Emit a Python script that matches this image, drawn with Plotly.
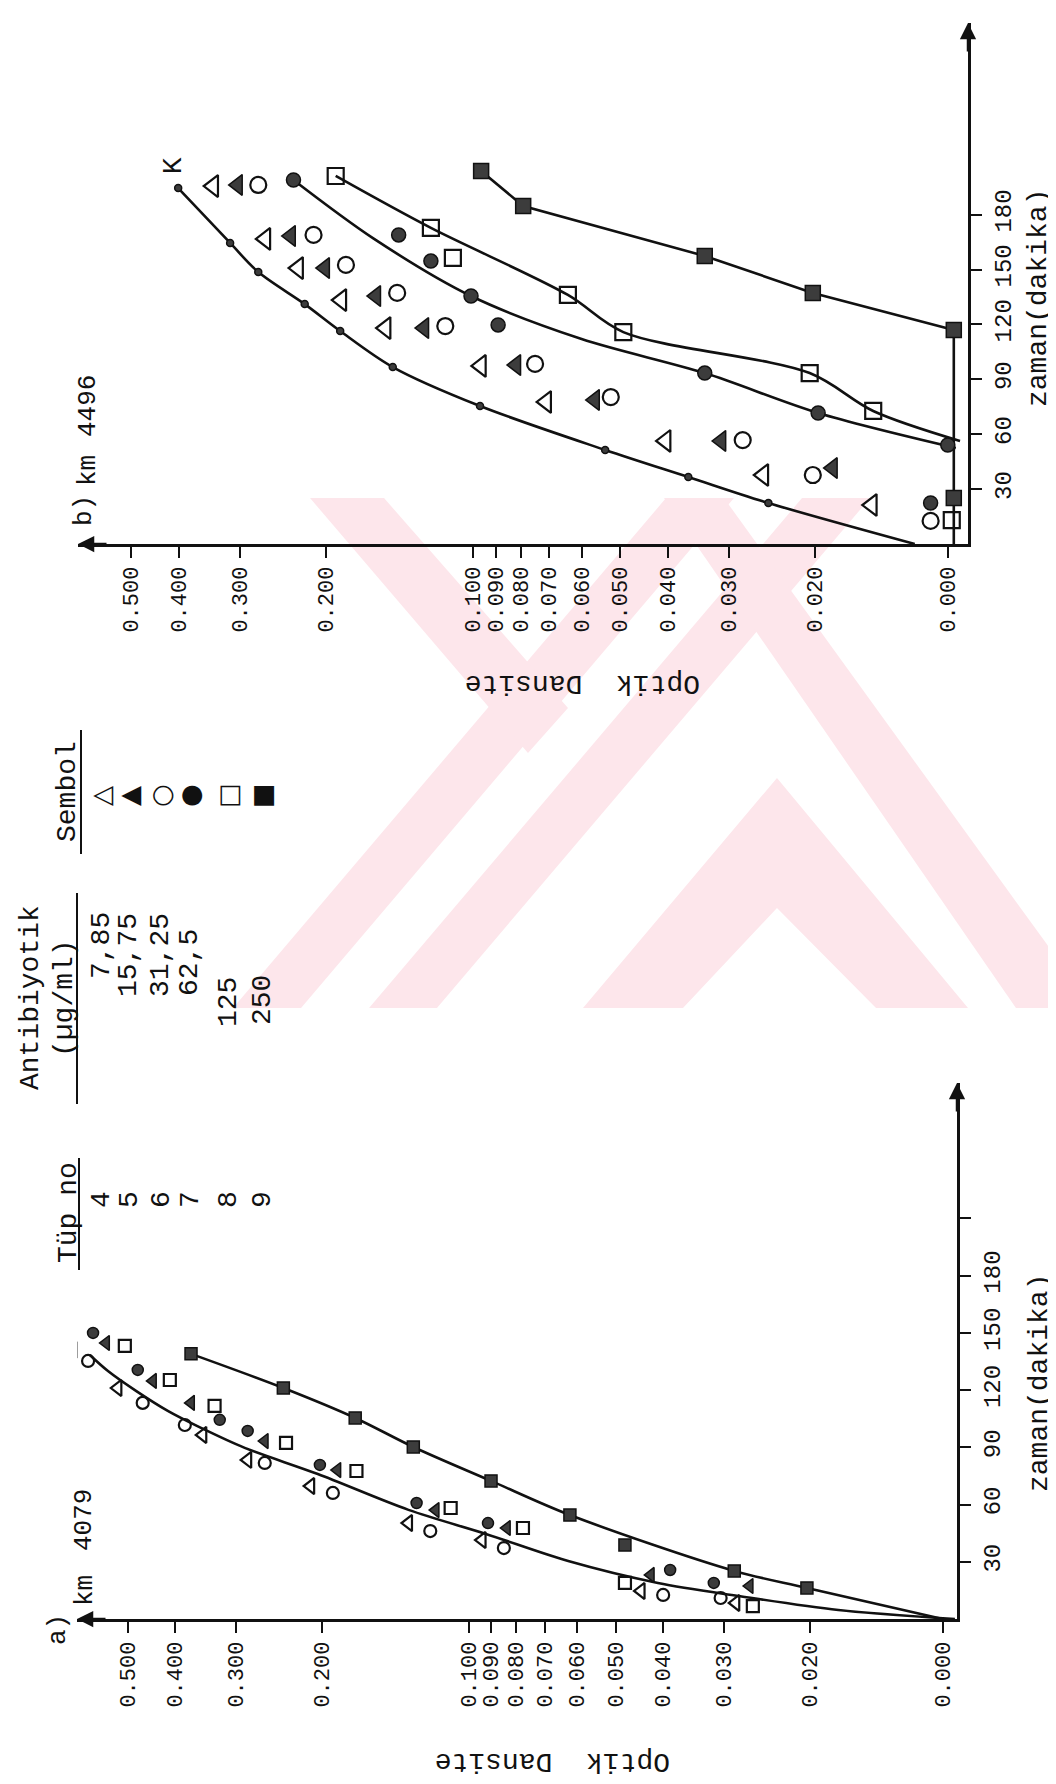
import numpy as np
import plotly.graph_objects as go

W, H = 1056, 1784

# ---------------- Panel b) km 4496 : time (min) vs optical density ----------------
b_K_t = [194.5, 164.5, 148.6, 131.1, 116.4, 96.7, 75.4, 51.4, 36.6, 22.4]
b_K_od = [0.401, 0.314, 0.275, 0.221, 0.187, 0.146, 0.0968, 0.0537, 0.0363, 0.0249]
b_tri_t = [195.6, 166.7, 150.8, 133.3, 118.0, 97.3, 77.6, 56.3, 37.7, 21.3]
b_tri_od = [0.340, 0.266, 0.228, 0.186, 0.151, 0.0964, 0.0709, 0.0404, 0.0255, 0.0153]
b_trif_t = [196.2, 168.3, 150.8, 135.5, 118.0, 97.8, 78.7, 56.3, 41.5]
b_trif_od = [0.303, 0.236, 0.201, 0.158, 0.126, 0.0817, 0.0564, 0.0311, 0.0184]
b_cir_t = [196.2, 168.9, 152.5, 137.2, 119.1, 98.4, 80.3, 56.8, 37.7, 12.6]
b_cir_od = [0.275, 0.212, 0.182, 0.143, 0.114, 0.0747, 0.0523, 0.0281, 0.0202, 0.0116]
b_cirf_t = [198.9, 168.9, 154.6, 135.5, 119.7, 93.4, 71.6, 54.1, 22.4]
b_cirf_od = [0.233, 0.142, 0.122, 0.101, 0.0889, 0.0336, 0.0197, 0.0107, 0.0116]
b_sq_t = [201.1, 172.7, 156.3, 136.1, 115.8, 93.4, 72.7, 13.1]
b_sq_od = [0.191, 0.122, 0.110, 0.064, 0.0493, 0.0205, 0.0152, 0.0105]
b_sqf_t = [203.8, 184.7, 157.4, 137.2, 116.9, 25.1]
b_sqf_od = [0.0963, 0.079, 0.0336, 0.0202, 0.0104, 0.0104]

# hand-drawn curves of panel b
b_cK_t = [194.5, 164.5, 148.6, 131.1, 116.4, 96.7, 75.4, 51.4, 36.6, 22.4, 0]
b_cK_od = [0.401, 0.314, 0.275, 0.221, 0.187, 0.146, 0.0968, 0.0537, 0.0363, 0.0249, 0.0125]
b_cCir_t = [198.9, 167.0, 135.5, 112.0, 93.4, 71.6, 52.5]
b_cCir_od = [0.233, 0.160, 0.101, 0.060, 0.0336, 0.0197, 0.0103]
b_cSq_t = [201.1, 172.7, 136.1, 115.8, 93.4, 72.7, 56.3]
b_cSq_od = [0.191, 0.122, 0.064, 0.0493, 0.0205, 0.0152, 0.0101]
b_cSqf_t = [203.8, 184.7, 157.4, 137.2, 116.9, 0]
b_cSqf_od = [0.0963, 0.079, 0.0336, 0.0202, 0.0104, 0.0104]

# ---------------- Panel a) km 4079 ----------------
a_tri_t = [141.1, 121.1, 96.5, 83.4, 69.7, 50.3, 41.4, 14.7, 8.4]
a_tri_od = [0.648, 0.524, 0.351, 0.284, 0.211, 0.133, 0.094, 0.0444, 0.0284]
a_trif_t = [144.7, 124.8, 113.3, 93.3, 78.1, 57.1, 47.7, 23.1, 17.3]
a_trif_od = [0.554, 0.444, 0.371, 0.262, 0.186, 0.117, 0.0836, 0.0424, 0.0266]
a_cir_t = [135.3, 113.3, 101.7, 81.8, 66.1, 46.1, 37.2, 12.6, 11.0]
a_cir_od = [0.603, 0.466, 0.382, 0.262, 0.190, 0.120, 0.0848, 0.0400, 0.0305]
a_cirf_t = [150.0, 130.6, 104.4, 98.6, 80.8, 60.8, 50.3, 25.7, 18.9]
a_cirf_od = [0.589, 0.477, 0.324, 0.284, 0.202, 0.128, 0.0914, 0.0387, 0.0315]
a_sq_t = [143.2, 125.3, 111.7, 92.3, 77.6, 58.2, 47.7, 18.9, 6.8]
a_sq_od = [0.507, 0.410, 0.332, 0.237, 0.170, 0.109, 0.0775, 0.0479, 0.0262]
a_sqf_t = [139.0, 121.1, 105.4, 90.2, 72.4, 54.5, 38.8, 25.2, 16.3]
a_sqf_od = [0.371, 0.240, 0.171, 0.130, 0.0901, 0.0621, 0.0479, 0.0286, 0.0203]

a_cK_t = [138.4, 130.0, 119.6, 109.1, 100.2, 89.7, 76.0, 57.2, 44.6, 30.4, 18.9, 12.1, 4.7, 0]
a_cK_od = [0.598, 0.549, 0.481, 0.414, 0.354, 0.288, 0.204, 0.133, 0.0923, 0.0626, 0.041, 0.0281, 0.0175, 0.0101]
a_cSqf_t = [139.0, 121.1, 105.4, 90.2, 72.4, 54.5, 25.2, 16.3, 0]
a_cSqf_od = [0.371, 0.240, 0.171, 0.130, 0.0901, 0.0621, 0.0286, 0.0203, 0.0107]

# ---------------- axes ticks ----------------
od_tickvals = [0.5, 0.4, 0.3, 0.2, 0.1, 0.09, 0.08, 0.07, 0.06, 0.05, 0.04, 0.03, 0.02, 0.0107]
od_ticktext = ["0.500", "0.400", "0.300", "0.200", "0.100", "0.090", "0.080", "0.070",
               "0.060", "0.050", "0.040", "0.030", "0.020", "0.000"]
t_tickvals_b = [30, 60, 90, 120, 150, 180]
t_ticktext_b = ["30", "60", "90", "120", "150", "180"]
t_tickvals_a = [30, 60, 90, 120, 150, 180, 210]
t_ticktext_a = ["30", "60", "90", "120", "150", "180", ""]

# legend table
tube_no = ["4", "5", "6", "7", "8", "9"]
conc = ["7,85", "15,75", "31,25", "62,5", "125", "250"]
symbols = ["\u25B3", "\u25B2", "\u25CB", "\u25CF", "\u25A1", "\u25A0"]

INK = "#111111"
FILL = "#3c3c3c"
MONO = "Liberation Mono"


def px(x):
    return x / W


def py(y):
    return 1 - y / H


fig = go.Figure()


def add_marks(t, od, symbol, size, xa, ya, filled):
    if filled:
        marker = dict(symbol=symbol, size=size, color=FILL, line=dict(color=INK, width=1.5))
    else:
        marker = dict(symbol=symbol, size=size, color=INK, line=dict(color=INK, width=2.2))
    fig.add_trace(go.Scatter(x=od, y=t, mode="markers", marker=marker, xaxis=xa, yaxis=ya,
                             showlegend=False, hoverinfo="skip"))


def add_curve(t, od, xa, ya, shape="spline"):
    fig.add_trace(go.Scatter(x=od, y=t, mode="lines",
                             line=dict(color=INK, width=2.6, shape=shape, smoothing=0.9),
                             xaxis=xa, yaxis=ya, showlegend=False, hoverinfo="skip"))


# panel b (xaxis / yaxis)
add_curve(b_cK_t, b_cK_od, "x", "y")
add_curve(b_cCir_t, b_cCir_od, "x", "y")
add_curve(b_cSq_t, b_cSq_od, "x", "y")
add_curve(b_cSqf_t, b_cSqf_od, "x", "y", shape="linear")
add_marks(b_K_t, b_K_od, "circle", 7, "x", "y", True)
add_marks(b_tri_t, b_tri_od, "triangle-left-open", 19, "x", "y", False)
add_marks(b_trif_t, b_trif_od, "triangle-left", 18, "x", "y", True)
add_marks(b_cir_t, b_cir_od, "circle-open", 16, "x", "y", False)
add_marks(b_cirf_t, b_cirf_od, "circle", 14, "x", "y", True)
add_marks(b_sq_t, b_sq_od, "square-open", 16, "x", "y", False)
add_marks(b_sqf_t, b_sqf_od, "square", 15, "x", "y", True)

# panel a (xaxis2 / yaxis2)
add_curve(a_cK_t, a_cK_od, "x2", "y2")
add_curve(a_cSqf_t, a_cSqf_od, "x2", "y2")
add_marks(a_tri_t, a_tri_od, "triangle-left-open", 14, "x2", "y2", False)
add_marks(a_trif_t, a_trif_od, "triangle-left", 13, "x2", "y2", True)
add_marks(a_cir_t, a_cir_od, "circle-open", 12, "x2", "y2", False)
add_marks(a_cirf_t, a_cirf_od, "circle", 11, "x2", "y2", True)
add_marks(a_sq_t, a_sq_od, "square-open", 12, "x2", "y2", False)
add_marks(a_sqf_t, a_sqf_od, "square", 12, "x2", "y2", True)

od_axis_common = dict(type="log", showline=True, linecolor=INK, linewidth=2.6, ticks="outside",
                      ticklen=11, tickwidth=2.2, tickcolor=INK, tickvals=od_tickvals,
                      ticktext=od_ticktext, tickangle=-90, showgrid=False, zeroline=False,
                      tickfont=dict(family=MONO, size=22, color=INK), fixedrange=True)
t_axis_common = dict(showline=True, linecolor=INK, linewidth=2.6, ticks="outside", ticklen=11,
                     tickwidth=2.2, tickcolor=INK, tickangle=-90, showgrid=False, zeroline=False,
                     side="right", tickfont=dict(family=MONO, size=24, color=INK), fixedrange=True)

layout = dict(
    width=W, height=H, margin=dict(l=0, r=0, t=0, b=0),
    paper_bgcolor="white", plot_bgcolor="rgba(0,0,0,0)", showlegend=False,
    xaxis=dict(od_axis_common, domain=[px(70), px(960)], range=[-0.192, -2.012], anchor="y"),
    yaxis=dict(t_axis_common, domain=[py(536), py(15)], range=[0, 284.7], anchor="x",
               tickvals=t_tickvals_b, ticktext=t_ticktext_b),
    xaxis2=dict(od_axis_common, domain=[px(69), px(949)], range=[-0.197, -2.0], anchor="y2"),
    yaxis2=dict(t_axis_common, domain=[py(1611), py(1075)], range=[0, 281], anchor="x2",
                tickvals=t_tickvals_a, ticktext=t_ticktext_a),
)
fig.update_layout(**layout)

ann = []
# axis arrows
for xr, yr in (("x", "y"), ("x2", "y2")):
    ann.append(dict(xref=f"{xr} domain", yref=f"{yr} domain", x=1, y=1, ax=0, ay=30,
                    text="", showarrow=True, arrowhead=2,
                    arrowsize=1.3, arrowwidth=2.5, arrowcolor=INK))
    ann.append(dict(xref=f"{xr} domain", yref=f"{yr} domain", x=0, y=0, ax=30, ay=0,
                    text="", showarrow=True, arrowhead=2, arrowsize=1.3, arrowwidth=2.5,
                    arrowcolor=INK))


def txt(x, y, s, size=28, angle=-90, family=MONO):
    ann.append(dict(xref="paper", yref="paper", x=px(x), y=py(y), text=s, showarrow=False,
                    textangle=angle, font=dict(family=family, size=size, color=INK),
                    xanchor="center", yanchor="middle"))


# K labels at the top of the control curves
ann.append(dict(xref="x", yref="y", x=np.log10(0.411), y=207, text="K", showarrow=False,
                textangle=-90, font=dict(family=MONO, size=28, color=INK)))
ann.append(dict(xref="x2", yref="y2", x=np.log10(0.66), y=155.0, text="K", showarrow=False,
                textangle=-90, font=dict(family=MONO, size=22, color=INK)))

# axis titles
txt(1031, 290, "zaman(dakika)", size=28)
txt(1031, 1375, "zaman(dakika)", size=28)
txt(575, 676, "Optik  Dansite", size=28, angle=180)
txt(545, 1754, "Optik  Dansite", size=28, angle=180)

# panel titles
txt(76, 503, "b)", size=26)
txt(80, 463, "km", size=26)
txt(80, 398, "4496", size=26)
txt(50, 1622, "a)", size=26)
txt(77, 1583, "km", size=26)
txt(76, 1512, "4079", size=26)

# legend table
col_x = [93, 121, 153, 182, 220, 254]
txt(60, 784, "Sembol", size=28)
txt(22, 990, "Antibiyotik", size=28)
txt(56, 990, "(\u00b5g/ml)", size=28)
txt(60, 1205, "T\u00fcp no", size=28)
conc_y = [938, 947, 947, 955, 994, 992]
for i in range(6):
    txt(col_x[i], 1192, tube_no[i], size=28)
    txt(col_x[i], conc_y[i], conc[i], size=28)
    txt(col_x[i], 788, symbols[i], size=26, family="DejaVu Sans")

shapes = []
# header underlines
for (x0, y0, y1) in ((73, 722, 846), (69, 885, 1096), (71, 1150, 1262)):
    shapes.append(dict(type="line", xref="paper", yref="paper", x0=px(x0), x1=px(x0),
                       y0=py(y0), y1=py(y1), line=dict(color=INK, width=2)))

# faint pink scan watermark
PINK = "#fde6eb"
wm_polys = [
    [(225, 1000), (293, 1000), (726, 490), (658, 490)],
    [(361, 1000), (429, 1000), (862, 490), (794, 490)],
    [(302, 490), (376, 490), (560, 700), (520, 745)],
    [(575, 1000), (769, 770), (960, 1000), (868, 1000), (769, 900), (675, 1000)],
    [(656, 490), (716, 490), (1056, 960), (1056, 1000), (1008, 1000)],
]
for poly in wm_polys:
    path = "M " + " L ".join(f"{px(x):.4f},{py(y):.4f}" for x, y in poly) + " Z"
    shapes.append(dict(type="path", xref="paper", yref="paper", path=path, fillcolor=PINK,
                       line=dict(width=0), layer="below"))

fig.update_layout(annotations=ann, shapes=shapes)
fig.write_html("out.html")
